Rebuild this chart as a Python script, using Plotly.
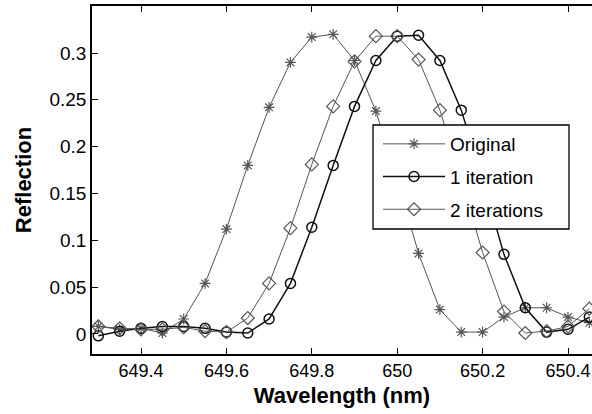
import plotly.graph_objects as go

wavelength = [649.30, 649.35, 649.40, 649.45, 649.50, 649.55, 649.60, 649.65,
              649.70, 649.75, 649.80, 649.85, 649.90, 649.95, 650.00, 650.05,
              650.10, 650.15, 650.20, 650.25, 650.30, 650.35, 650.40, 650.45]

original = [0.008, 0.005, 0.006, 0.001, 0.016, 0.054, 0.112, 0.180,
            0.242, 0.290, 0.317, 0.320, 0.292, 0.238, 0.165, 0.086,
            0.026, 0.002, 0.002, 0.018, 0.028, 0.028, 0.018, 0.012]

iter1 = [-0.002, 0.003, 0.006, 0.008, 0.008, 0.006, 0.002, 0.001,
         0.016, 0.054, 0.114, 0.180, 0.243, 0.292, 0.318, 0.319,
         0.292, 0.239, 0.165, 0.085, 0.028, 0.002, 0.005, 0.018]

iter2 = [0.008, 0.006, 0.005, 0.005, 0.007, 0.003, 0.002, 0.017,
         0.054, 0.113, 0.181, 0.243, 0.291, 0.318, 0.318, 0.293,
         0.239, 0.165, 0.087, 0.024, 0.001, 0.003, 0.008, 0.027]

xtick_vals = [649.4, 649.6, 649.8, 650.0, 650.2, 650.4]
xtick_text = ["649.4", "649.6", "649.8", "650", "650.2", "650.4"]
ytick_vals = [0, 0.05, 0.1, 0.15, 0.2, 0.25, 0.3]
ytick_text = ["0", "0.05", "0.1", "0.15", "0.2", "0.25", "0.3"]

FONT = "Liberation Sans, Arial, sans-serif"

fig = go.Figure()
fig.add_trace(go.Scatter(
    x=wavelength, y=original, name="Original", mode="lines+markers", legendgroup="a",
    line=dict(color="#555555", width=1),
    marker=dict(symbol="asterisk-open", size=9, color="#555555",
                line=dict(color="#555555", width=1.2)),
))
fig.add_trace(go.Scatter(
    x=wavelength, y=iter1, name="1 iteration", mode="lines+markers", legendgroup="b",
    line=dict(color="#111111", width=1.5),
    marker=dict(symbol="circle-open", size=10, color="#111111",
                line=dict(color="#111111", width=1.5)),
))
fig.add_trace(go.Scatter(
    x=wavelength, y=iter2, name="2 iterations", mode="lines+markers", legendgroup="c",
    line=dict(color="#555555", width=1),
    marker=dict(symbol="diamond-open", size=10, color="#555555",
                line=dict(color="#555555", width=1.2)),
))

# legend frame
fig.add_shape(type="rect", xref="paper", yref="paper",
              x0=(373 - 92) / 500, x1=(569 - 92) / 500,
              y0=(354 - 229) / 348, y1=(354 - 125) / 348,
              line=dict(color="black", width=1.3), fillcolor="white", layer="above")

fig.update_layout(
    width=592, height=414,
    margin=dict(l=92, r=0, t=6, b=60),
    paper_bgcolor="white", plot_bgcolor="white",
    font=dict(family=FONT, size=18, color="black"),
    showlegend=True,
    legend=dict(x=(378 - 92) / 500, y=(354 - 125) / 348, xanchor="left", yanchor="top",
                bgcolor="rgba(0,0,0,0)", borderwidth=0,
                font=dict(family=FONT, size=19, color="black"),
                itemwidth=62, tracegroupgap=5),
    xaxis=dict(range=[649.2852, 650.4562], tickvals=xtick_vals, ticktext=xtick_text,
               ticks="inside", ticklen=6, tickcolor="black", showgrid=False, zeroline=False,
               showline=True, linecolor="black", linewidth=1.5, mirror="allticks",
               tickfont=dict(size=18),
               title=dict(text="<b>Wavelength (nm)</b>", font=dict(size=22), standoff=7)),
    yaxis=dict(range=[-0.0214, 0.3502], tickvals=ytick_vals, ticktext=ytick_text,
               ticks="inside", ticklen=6, tickcolor="black", showgrid=False, zeroline=False,
               showline=True, linecolor="black", linewidth=1.5,
               tickfont=dict(size=19),
               title=dict(text="<b>Reflection</b>", font=dict(size=22), standoff=12)),
)

fig.write_html("out.html")
